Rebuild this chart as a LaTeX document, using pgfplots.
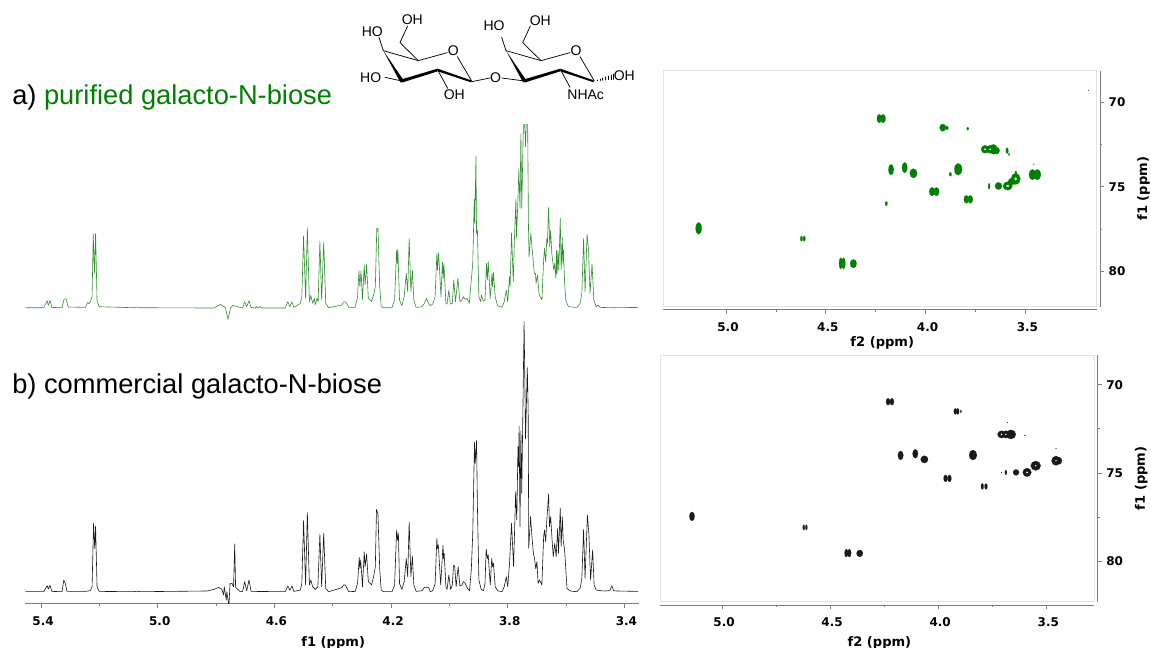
\documentclass[border=0pt]{standalone}
\usepackage{fontspec}
\setmainfont{Liberation Sans}
\newfontfamily\djv{DejaVu Sans}
\usepackage{pgfplots}
\usepackage{pgfplotstable}
\usetikzlibrary{calc}
\pgfplotsset{compat=1.18}
\definecolor{sgreen}{RGB}{0,128,0}
\definecolor{lgreen}{RGB}{45,145,45}
\definecolor{sblack}{RGB}{25,25,25}
\definecolor{axgrey}{RGB}{125,125,125}
\definecolor{frgrey}{RGB}{226,226,226}

% 1H spectrum a), ppm and height
\pgfplotstableread{
5.454 0
5.391 0
5.379 7
5.375 2.3
5.369 7.3
5.363 0.3
5.328 0
5.321 8.7
5.314 9
5.307 0.7
5.248 0.3
5.240 5.3
5.236 4
5.231 6
5.225 11
5.221 73.7
5.217 34.3
5.213 74.3
5.208 7.7
5.201 1
5.082 0
5.071 0.7
5.060 0
4.808 -0.3
4.785 3.3
4.768 0.3
4.759 -11.7
4.751 -0.7
4.743 2.3
4.709 -0.3
4.702 6
4.695 1
4.687 7
4.680 0.3
4.665 -0.3
4.662 1.3
4.657 -0.3
4.650 1
4.645 -0.3
4.563 -0.3
4.554 6
4.547 1
4.540 6
4.533 0.3
4.511 4.3
4.506 11
4.500 71.7
4.493 9
4.487 80
4.480 6
4.475 12.3
4.469 4.3
4.463 9.3
4.460 3
4.454 9.3
4.450 6
4.444 66.7
4.438 7.7
4.431 65.3
4.424 4.3
4.414 0
4.369 2.7
4.363 5.7
4.357 6
4.351 3.7
4.345 0.3
4.323 0.3
4.315 11
4.310 36.7
4.307 21
4.303 36.7
4.298 8.3
4.292 42.7
4.289 22.7
4.284 43.3
4.278 9.3
4.271 7.7
4.267 6
4.260 12.7
4.254 21
4.249 79.3
4.245 79.3
4.239 21
4.234 1
4.226 0
4.197 0
4.188 7.7
4.181 57.7
4.179 44.3
4.177 58.3
4.171 7.7
4.163 2
4.155 11
4.148 34.3
4.143 16
4.138 69.3
4.132 16
4.127 37.7
4.122 7.7
4.114 0.3
4.094 1
4.086 4.3
4.079 9.3
4.073 5.3
4.066 2
4.057 3.7
4.049 11
4.043 54.3
4.041 37.7
4.037 55
4.029 11
4.024 46
4.021 29.3
4.019 44.3
4.012 4.3
4.008 3.7
4.002 17.7
3.997 3.7
3.990 4.3
3.985 27.7
3.979 6
3.971 29.3
3.964 6
3.957 7.7
3.952 11
3.946 8.3
3.940 9.3
3.932 4.3
3.925 27.7
3.920 44.3
3.915 108.3
3.913 84.3
3.909 151.7
3.907 74.3
3.904 77.7
3.899 11
3.893 6
3.890 12.7
3.884 6.7
3.878 7.7
3.873 44.3
3.870 27.7
3.867 46
3.860 9.3
3.854 34.3
3.852 21
3.849 35
3.843 11
3.835 2
3.820 0.3
3.812 6
3.805 17.7
3.800 6
3.794 31
3.792 21
3.787 74.3
3.781 26
3.777 69.3
3.772 108.3
3.770 70.3
3.765 109.3
3.762 138.3
3.758 99.3
3.755 174.3
3.752 99.3
3.746 190
3.743 190
3.739 161
3.736 190
3.732 190
3.729 81
3.727 51
3.721 74.3
3.716 57.7
3.712 44.3
3.709 34.3
3.705 34.3
3.703 24.3
3.698 32.7
3.693 14.3
3.689 11
3.683 7.7
3.677 47.7
3.674 59.3
3.670 46
3.666 69.3
3.664 64.3
3.660 100.3
3.656 61
3.653 77.7
3.649 54.3
3.645 44.3
3.642 37.7
3.639 44.3
3.635 29.3
3.633 57
3.631 34.3
3.628 57
3.625 37.7
3.620 89.3
3.617 37.7
3.613 70.3
3.611 44.3
3.609 57.7
3.605 24.3
3.601 7.7
3.592 1
3.563 0.3
3.552 4.3
3.546 14.3
3.540 69.3
3.535 16
3.528 73.7
3.523 57.7
3.518 14.3
3.511 43.7
3.505 7.7
3.497 1
3.491 2.7
3.483 0.3
3.437 0
3.352 0.3
}\specA

% 1H spectrum b), ppm and height
\pgfplotstableread{
5.454 0
5.391 0
5.379 6
5.375 2.7
5.369 6.3
5.363 0.3
5.328 0
5.322 11.7
5.317 8.3
5.311 0.3
5.248 0.3
5.231 1
5.225 5
5.220 68.3
5.216 43.3
5.213 65.7
5.208 5
5.201 0.3
5.082 0
5.071 0.5
5.060 0
4.831 0.7
4.808 2.3
4.791 4.3
4.780 2.3
4.774 -3.3
4.772 5
4.765 -8.3
4.763 0
4.756 -14
4.752 8.3
4.745 8.3
4.740 5
4.736 47.7
4.733 4.3
4.717 0
4.709 0
4.702 10
4.695 1
4.687 11.7
4.680 0.3
4.563 0
4.554 5.7
4.547 1.3
4.540 5.7
4.533 0.3
4.511 1.7
4.506 8.3
4.500 71
4.493 6.7
4.487 79
4.480 6.7
4.475 11.7
4.469 5
4.460 2.3
4.451 5
4.444 57.7
4.438 5
4.431 58.3
4.424 3.3
4.414 0
4.369 4
4.363 6.7
4.357 6.7
4.351 3.3
4.345 0
4.323 0.3
4.315 8.3
4.309 34.3
4.307 23
4.304 31.7
4.298 5
4.292 39.7
4.289 25
4.284 37.7
4.278 10
4.271 8.3
4.267 6.7
4.260 15
4.254 25
4.250 82.3
4.245 77.7
4.239 23
4.234 1.7
4.226 0
4.197 0
4.188 6.7
4.181 61.7
4.178 51.7
4.175 58.3
4.171 8.3
4.163 2.3
4.155 10
4.148 33.3
4.143 15
4.138 69.7
4.132 15
4.127 35.7
4.122 6.7
4.114 0.3
4.094 1
4.086 4.3
4.071 4.3
4.066 0
4.057 1
4.049 8.3
4.043 53.3
4.041 43.3
4.038 46.7
4.030 6.7
4.022 46.3
4.020 33
4.018 38.3
4.012 5
4.008 2.3
4.002 16.7
3.996 2.3
3.990 6.7
3.986 26
3.982 26
3.977 5
3.970 25
3.964 5.7
3.957 6.7
3.952 10
3.946 8.3
3.938 3.3
3.931 1
3.925 21.7
3.920 58.3
3.914 149.3
3.912 128
3.907 151
3.904 85
3.899 11.7
3.891 2.3
3.883 1
3.878 8.3
3.874 42.7
3.870 33
3.867 36.7
3.860 6.7
3.855 33.3
3.852 25
3.849 28.3
3.843 5
3.835 1
3.820 0
3.812 5
3.805 15
3.800 5
3.794 28.3
3.787 68.3
3.780 25
3.773 100
3.769 71.7
3.765 145
3.763 125
3.761 165.7
3.758 65
3.755 161
3.752 98.3
3.744 270
3.739 153
3.733 224
3.730 181.7
3.728 43.3
3.722 75
3.717 55
3.712 38.3
3.708 33
3.704 23
3.700 30
3.696 8.3
3.691 11.7
3.683 6.7
3.677 55
3.674 61.7
3.670 50
3.666 71.7
3.660 97.7
3.657 65
3.653 75
3.648 51.7
3.644 35
3.639 48.3
3.634 35
3.629 63.3
3.626 38.3
3.620 83.3
3.617 45
3.613 75
3.610 51.7
3.605 41.7
3.603 31.7
3.597 3.3
3.586 0.7
3.563 0
3.552 3.3
3.546 13.3
3.540 62.3
3.535 13.3
3.527 76.7
3.522 58.3
3.516 11.7
3.509 41.7
3.504 6.7
3.497 1.7
3.483 1
3.466 0.7
3.455 1
3.449 1.7
3.443 6
3.437 1
3.426 0.7
3.352 0.3
}\specB

% HSQC a): f2, f1, half width and half height of each cross peak (px)
\pgfplotstableread{
x y w h
5.137 77.456 3 6
4.622 78.067 1.2 2.7
4.608 78.067 1.2 2.7
4.425 79.527 1.8 5.7
4.411 79.527 1.8 5.7
4.362 79.546 3.3 4.3
4.232 70.966 2.5 4.3
4.213 70.966 2.5 4.3
4.197 75.996 1.2 2.2
4.173 73.984 2.7 5.3
4.105 73.866 2.7 5.3
4.061 74.201 3.7 4.7
3.968 75.286 2.8 4.3
3.946 75.286 2.8 4.3
3.914 71.499 3.2 3.7
3.893 71.519 1.3 2
3.789 71.558 1.2 1.7
3.876 74.260 1.2 2
3.837 73.964 3.8 6
3.796 75.740 2.5 4
3.776 75.740 2.5 4
3.702 72.781 4 4
3.677 72.781 4 4
3.660 72.781 4 5
3.644 72.860 3 3.5
3.682 74.970 1 3
3.635 74.951 3.5 3.7
3.589 74.951 4.7 4.3
3.569 74.694 3.5 3.5
3.549 74.537 4.7 5.7
3.548 74.200 1 2.5
3.592 72.860 1.3 3
3.582 73.077 0.7 1.5
3.465 74.280 3.5 5.3
3.440 74.280 3.5 5.3
3.458 73.669 0.5 0.5
3.184 69.290 0.6 0.4
}\hsqcA
\pgfplotstableread{
x y w h
3.702 72.781 0.8 0.8
3.677 72.781 0.7 0.7
3.589 74.951 1.4 1
3.549 74.537 1.1 1.4
}\hsqcAw

% HSQC b)
\pgfplotstableread{
x y w h
5.139 77.467 2.7 4.5
4.622 78.091 1 2.7
4.610 78.091 1 2.7
4.425 79.546 1.8 4
4.411 79.546 1.8 4
4.363 79.565 3.2 3.5
4.232 70.964 2 3.5
4.214 70.964 2 3.5
4.174 74.008 2.7 4.5
4.106 73.913 2.7 4.5
4.064 74.234 3.7 3.7
3.966 75.312 2 3.5
3.948 75.312 2 3.5
3.921 71.512 1.5 3
3.910 71.512 1.5 3
3.895 71.512 0.7 1.7
3.839 73.989 3.9 5
3.796 75.766 1.4 3
3.779 75.766 1.4 3
3.707 72.817 4 3.7
3.687 72.817 4 3.7
3.664 72.817 5 4.6
3.680 72.155 0.4 0.4
3.599 72.873 0.5 0.5
3.455 73.611 0.4 0.4
3.687 74.972 1 2.4
3.707 74.972 0.4 0.4
3.640 74.972 3 3
3.589 74.972 4.3 4.3
3.549 74.594 5 4.7
3.455 74.310 4.5 4.7
3.440 74.310 2.7 3.5
}\hsqcB
\pgfplotstableread{
x y w h
3.707 72.817 0.7 0.7
3.687 72.817 0.6 0.6
3.589 74.972 0.8 0.8
3.549 74.594 0.6 0.6
3.455 74.310 0.5 0.5
}\hsqcBw

\tikzset{tlab/.style={font=\djv\bfseries\fontsize{9}{10}\selectfont}}
\pgfplotsset{
  spots/.style={scatter, only marks, mark=*, mark size=0.75pt,
    visualization depends on={\thisrow{w} \as \ew},
    visualization depends on={\thisrow{h} \as \eh},
    mark options={fill=#1, draw=#1, line width=0.1pt},
    scatter/@pre marker code/.code={\scope[xscale=\ew,yscale=\eh,color=#1,fill=#1,draw=#1,line width=0.1pt]},
    scatter/@post marker code/.code={\endscope}},
  hsqc/.style={scale only axis, x dir=reverse, y dir=reverse,
    axis x line=bottom, axis y line=right,
    axis x line shift=2.5pt, axis y line shift=2.5pt,
    axis line style={axgrey, line width=0.75pt, -},
    tick style={axgrey, line width=0.5pt},
    major tick length=3pt, minor tick length=1.5pt,
    tick align=outside, clip=false,
    xtick={5.0,4.5,4.0,3.5}, xticklabels={5.0,4.5,4.0,3.5},
    ytick={70,75,80}, yticklabels={70,75,80},
    minor x tick num=1, minor y tick num=1,
    x tick label style={tlab, xshift=1.5pt, yshift=-3pt},
    y tick label style={tlab},
    xlabel={f2 (ppm)}, ylabel={f1 (ppm)},
    xlabel style={font=\djv\bfseries\fontsize{9.8}{10}\selectfont, xshift=1.7pt},
    ylabel style={font=\djv\bfseries\fontsize{9.8}{10}\selectfont, yshift=-2pt},
    execute at end axis={\draw[frgrey, line width=0.75pt] (rel axis cs:0,0) rectangle (rel axis cs:1,1);}},
}

\begin{document}
\begin{tikzpicture}
\path[use as bounding box] (0,0) rectangle (863.25pt,486pt);

% --- headings
\node[anchor=base west, inner sep=0pt, font=\fontsize{20.45}{22}\selectfont] at (9pt,407.3pt) {a) \textcolor{sgreen}{purified galacto-N-biose}};
\node[anchor=base west, inner sep=0pt, font=\fontsize{20.45}{22}\selectfont] at (9pt,191pt) {b) commercial galacto-N-biose};

% --- spectrum a
\begin{axis}[at={(18.75pt,240.2pt)}, anchor=south west, scale only axis,
  width=460.3pt, height=152.25pt, hide axis, x dir=reverse,
  xmin=3.351, xmax=5.455, ymin=-20, ymax=183]
\addplot[lgreen, line width=0.45pt, line join=round] table {\specA};
\end{axis}

% --- spectrum b
\begin{axis}[at={(18.75pt,33pt)}, anchor=south west, scale only axis,
  width=460.3pt, height=219.2pt, x dir=reverse,
  xmin=3.351, xmax=5.455, ymin=-12.3, ymax=280,
  axis x line=bottom, axis y line=none,
  axis line style={axgrey, line width=0.75pt, -},
  tick style={axgrey, line width=0.5pt},
  major tick length=3pt, minor tick length=1.5pt, tick align=outside,
  xtick={5.4,5.0,4.6,4.2,3.8,3.4}, xticklabels={5.4,5.0,4.6,4.2,3.8,3.4},
  minor x tick num=1,
  x tick label style={tlab, xshift=1.5pt, yshift=-3pt},
  xlabel={f1 (ppm)}, xlabel style={font=\djv\bfseries\fontsize{9.8}{10}\selectfont, xshift=1pt, yshift=-1.5pt}]
\addplot[sblack, line width=0.45pt, line join=round] table {\specB};
\end{axis}

% --- HSQC a
\begin{axis}[hsqc, at={(497.5pt,256pt)}, anchor=south west,
  width=325pt, height=176.8pt,
  xmin=3.143, xmax=5.314, ymin=68.146, ymax=82.09,
  xlabel style={yshift=3pt}]
\addplot[spots=sgreen] table[x=x,y=y] {\hsqcA};
\addplot[spots=white] table[x=x,y=y] {\hsqcAw};
\end{axis}

% --- HSQC b
\begin{axis}[hsqc, at={(495pt,34.7pt)}, anchor=south west,
  width=325.7pt, height=185pt,
  xmin=3.278, xmax=5.287, ymin=68.318, ymax=82.306,
  xlabel style={yshift=-0.5pt}]
\addplot[spots=sblack] table[x=x,y=y] {\hsqcB};
\addplot[spots=white] table[x=x,y=y] {\hsqcBw};
\end{axis}

% --- structure of galacto-N-biose
\begin{scope}[shift={(255pt,486pt)}, x=0.25pt, y=-0.25pt, line width=0.55pt, line cap=round, line join=round]
  \foreach \d in {0,368}{
    \begin{scope}[xshift=\d*0.25pt]
    \draw (130,152)--(235,182)--(322,158);
    \draw (352,170)--(395,243);
    \fill (393,241)--(293,206)--(293,214)--(393,247)--cycle;
    \fill (293,206)--(185,238)--(185,248)--(293,214)--cycle;
    \fill (130,152)--(181,247)--(191,241)--cycle;
    \draw (235,182)--(180,128)--(203,78);
    \draw (130,152)--(117,112);
    \end{scope}
  }
  \draw (185,243)--(135,232);
  \draw (293,210)--(323,265);
  \draw (395,245)--(450,234);
  \draw (485,234)--(553,243);
  \draw (662,210)--(690,262);
  \foreach \t in {0.14,0.28,...,0.98}{
    \draw[line width=0.5pt] ($(763,243)!\t!(822,230)+(0,-8*\t)$)--($(763,243)!\t!(822,230)+(0,8*\t)$);
  }
  \tikzset{lab/.style={inner sep=0pt, font=\fontsize{10.5}{12}\selectfont}}
  \node[lab] at (217,58) {OH};
  \node[lab] at (97,95) {HO};
  \node[lab] at (92,232) {HO};
  \node[lab] at (340,153) {O};
  \node[lab] at (343,285) {OH};
  \node[lab] at (467,232) {O};
  \node[lab] at (462,78) {HO};
  \node[lab] at (601,62) {OH};
  \node[lab] at (708,153) {O};
  \node[lab] at (737,283) {NHAc};
  \node[lab] at (853,228) {OH};
\end{scope}
\end{tikzpicture}
\end{document}
